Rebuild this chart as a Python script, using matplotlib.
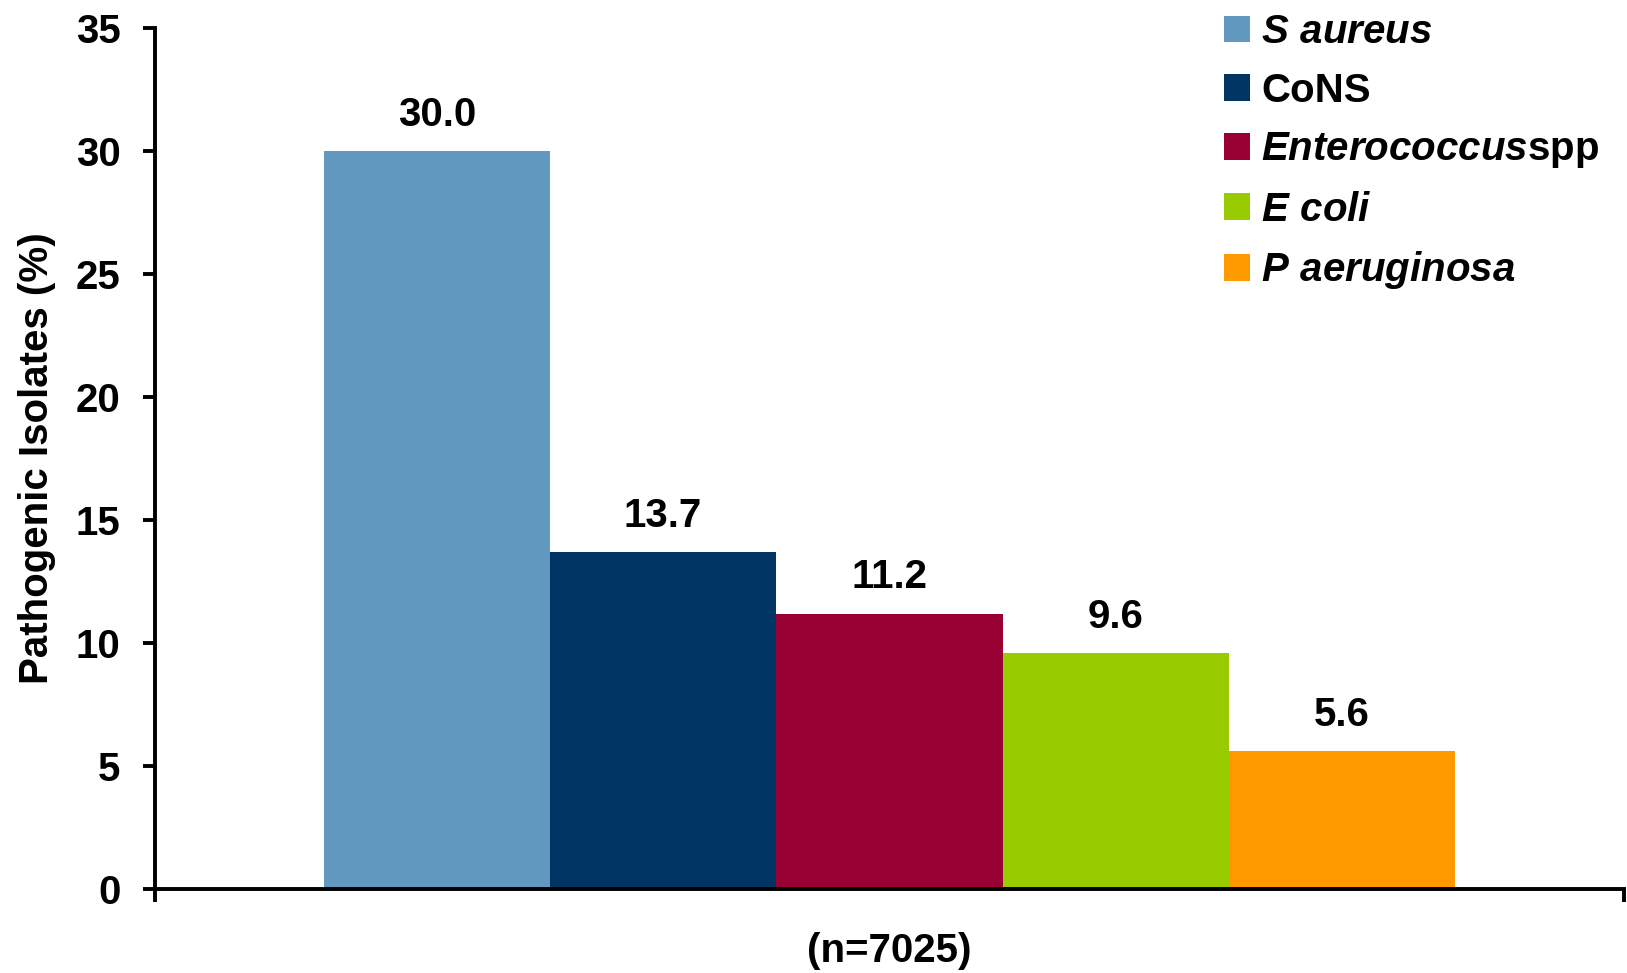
import matplotlib
matplotlib.use('Agg')
import matplotlib.pyplot as plt
from matplotlib.patches import Patch

plt.rcParams['font.family'] = ['Liberation Sans', 'DejaVu Sans']
plt.rcParams['font.weight'] = 'bold'
plt.rcParams['mathtext.fontset'] = 'custom'
plt.rcParams['mathtext.rm'] = 'Liberation Sans:bold'
plt.rcParams['mathtext.it'] = 'Liberation Sans:bold:italic'

# pathogen shares of all isolates
pathogens = [r'$\mathit{S\ aureus}$', 'CoNS', r'$\mathit{Enterococcus}$spp',
             r'$\mathit{E\ coli}$', r'$\mathit{P\ aeruginosa}$']
values = [30.0, 13.7, 11.2, 9.6, 5.6]
colors = ['#6199C0', '#003462', '#990033', '#99CC00', '#FF9900']
yticks = [0, 5, 10, 15, 20, 25, 30, 35]

fs = 29

fig = plt.figure(figsize=(16.27, 9.73), dpi=100)
ax = fig.add_axes([0.0953, 0.0863, 0.9027, 0.8849])

w = 0.1541
n = len(values)
for i, (v, c) in enumerate(zip(values, colors)):
    x = (i - (n - 1) / 2) * w
    ax.bar(x, v, width=w, color=c, edgecolor='none', zorder=2)
    ax.text(x, v + 0.7, f'{v:.1f}', ha='center', va='bottom',
            fontsize=fs, fontweight='bold')

ax.set_xlim(-0.5, 0.5)
ax.set_ylim(0, 35)
ax.set_yticks(yticks)
ax.set_yticklabels([str(t) for t in yticks], fontsize=fs, fontweight='bold')
ax.set_xticks([-0.5, 0.5])
ax.set_xticklabels(['', ''])
ax.tick_params(axis='both', direction='out', length=9, width=2.8, pad=16)

for s in ['top', 'right']:
    ax.spines[s].set_visible(False)
for s in ['left', 'bottom']:
    ax.spines[s].set_linewidth(2.8)

ax.set_ylabel('Pathogenic Isolates (%)', fontsize=fs, fontweight='bold', labelpad=14)
ax.set_xlabel('(n=7025)', fontsize=fs, fontweight='bold', labelpad=6)

handles = [Patch(facecolor=c, edgecolor='none') for c in colors]
leg = ax.legend(handles, pathogens, loc='upper left',
                bbox_to_anchor=(0.752, 0.9865), bbox_transform=fig.transFigure,
                frameon=False, fontsize=fs, handlelength=0.65, handleheight=0.65,
                handletextpad=0.28, labelspacing=0.51, borderpad=0, borderaxespad=0)

fig.savefig('out.png', dpi=100)
